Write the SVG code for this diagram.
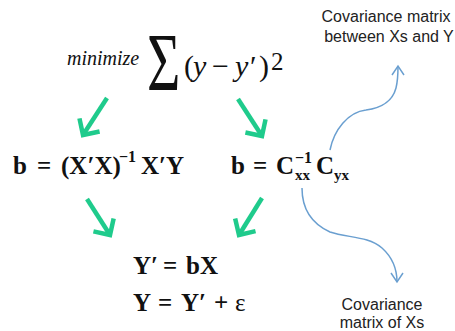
<svg xmlns="http://www.w3.org/2000/svg" width="455" height="331" viewBox="0 0 455 331">
<style>
.m{font-family:"Liberation Serif","DejaVu Serif",serif;fill:#111;}
.b{font-weight:bold;}
.i{font-style:italic;}
.lbl{font-family:"Liberation Sans",Arial,sans-serif;font-size:16px;fill:#222;text-anchor:middle;}
.g{fill:none;stroke:#1fcb8c;stroke-width:4.5;}
.bl{fill:none;stroke:#6a9fd0;stroke-width:1.5;}
</style>
<defs>
<marker id="ga" markerUnits="userSpaceOnUse" viewBox="-16 -16 20 32" markerWidth="20" markerHeight="32" refX="0" refY="0" orient="auto">
<path d="M-12,-12 L0,0 L-12,12" fill="none" stroke="#1fcb8c" stroke-width="4.5" stroke-linejoin="miter" stroke-linecap="butt"/>
</marker>
<marker id="ba" markerUnits="userSpaceOnUse" viewBox="-12 -10 14 20" markerWidth="14" markerHeight="20" refX="0" refY="0" orient="auto">
<path d="M-9,-6 L0,0 L-9,6" fill="none" stroke="#6a9fd0" stroke-width="1.5"/>
</marker>
</defs>
<rect width="455" height="331" fill="#fff"/>

<g id="objective">
<text class="m i" x="67" y="65" font-size="20">minimize</text>
<text class="m" x="0" y="0" font-size="82" transform="translate(147,90) scale(0.7,1)">Σ</text>
<text class="m" y="76" font-size="30"><tspan x="184">(</tspan><tspan class="i" x="193">y</tspan><tspan x="212">−</tspan><tspan class="i" x="235">y</tspan><tspan x="250">′</tspan><tspan x="259">)</tspan><tspan x="271" y="70" font-size="25">2</tspan></text>
</g>

<g id="normal-eq">
<text class="m b" y="174" font-size="25"><tspan x="13">b</tspan><tspan x="37">=</tspan><tspan x="61">(X′X)</tspan><tspan x="119" y="162" font-size="16">−1</tspan><tspan x="141" y="174">X′Y</tspan></text>
</g>

<g id="cov-eq">
<text class="m b" y="174" font-size="25"><tspan x="231">b</tspan><tspan x="253">=</tspan><tspan x="276">C</tspan><tspan x="295" y="163" font-size="16">−1</tspan><tspan x="295" y="180" font-size="15">xx</tspan><tspan x="316" y="174">C</tspan><tspan x="334" y="180" font-size="15">yx</tspan></text>
</g>

<g id="prediction">
<text class="m b" y="274" font-size="25"><tspan x="133">Y′</tspan><tspan x="163">=</tspan><tspan x="186">bX</tspan></text>
<text class="m b" y="311" font-size="25"><tspan x="133">Y</tspan><tspan x="158">=</tspan><tspan x="181">Y′</tspan><tspan x="214">+</tspan><tspan x="235" font-weight="normal">ε</tspan></text>
</g>

<g id="label-cyx">
<text class="lbl" x="386" y="22">Covariance matrix</text>
<text class="lbl" x="389" y="42">between Xs and Y</text>
</g>

<g id="label-cxx">
<text class="lbl" x="382" y="310">Covariance</text>
<text class="lbl" x="382" y="328">matrix of Xs</text>
</g>

<g id="connectors">
<path class="g" d="M107,98 L83,135" marker-end="url(#ga)"/>
<path class="g" d="M238,99 L262,136" marker-end="url(#ga)"/>
<path class="g" d="M87,199 L110,235" marker-end="url(#ga)"/>
<path class="g" d="M262,198 L239,235" marker-end="url(#ga)"/>
<path class="bl" d="M330,150 C334,130 348,112 366,110 C380,108 392,103 396,88 C398,80 398,72 398,66" marker-end="url(#ba)"/>
<path class="bl" d="M302,188 C302,205 308,222 330,232 C348,238 368,236 382,248 C392,257 397,268 397,282" marker-end="url(#ba)"/>
</g>
</svg>
